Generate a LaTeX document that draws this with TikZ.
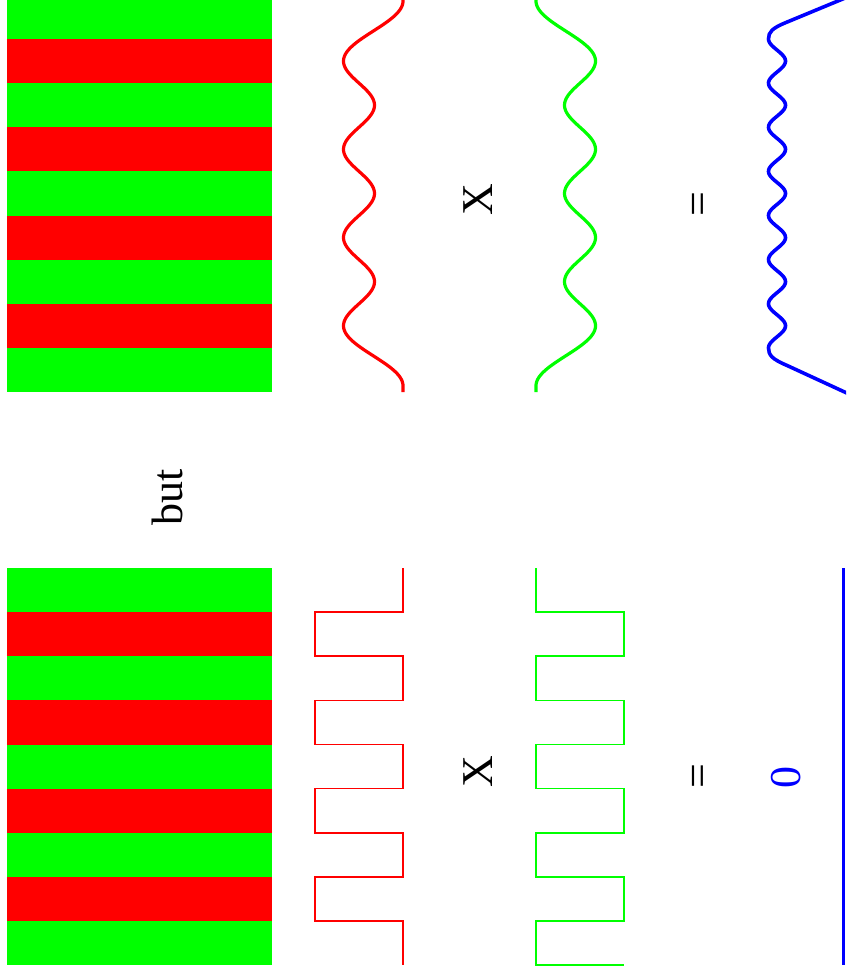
\documentclass[tikz,border=0pt]{standalone}
\usepackage{fontspec}
\setmainfont{Liberation Serif}
\begin{document}
\begin{tikzpicture}[x=1pt,y=-1pt,
  wave/.style={line width=3.2pt,line join=round},
  sq/.style={line width=1.7pt,line join=miter},
  lab/.style={rotate=90,anchor=base,inner sep=0pt,font=\fontsize{44}{50}\selectfont}]
\definecolor{red}{RGB}{255,0,0}
\definecolor{green}{RGB}{0,255,0}
\definecolor{blue}{RGB}{0,0,255}
\useasboundingbox (0,0) rectangle (846,974);
\clip (0,0) rectangle (846,974);
\fill[white] (0,0) rectangle (846,974);
% ---------- top panel: stripes ----------
\foreach \k in {0,...,8}{
  \pgfmathsetmacro{\ya}{-5.125+44.125*\k}
  \pgfmathsetmacro{\yb}{-5.125+44.125*(\k+1)}
  \pgfmathparse{int(mod(\k,2))}
  \ifnum\pgfmathresult=0 \fill[green] (7,\ya) rectangle (272,\yb); \else \fill[red] (7,\ya) rectangle (272,\yb); \fi
}
% ---------- bottom panel: stripes ----------
\foreach \k in {0,...,8}{
  \pgfmathsetmacro{\ya}{568+44.125*\k}
  \pgfmathsetmacro{\yb}{568+44.125*(\k+1)}
  \pgfmathparse{int(mod(\k,2))}
  \ifnum\pgfmathresult=0 \fill[green] (7,\ya) rectangle (272,\yb); \else \fill[red] (7,\ya) rectangle (272,\yb); \fi
}
% ---------- top panel: smooth waves ----------
\draw[red,wave] (403,-10) -- (403,1.06)
  -- plot[domain=1.06:61.06,samples=40] ({343.5+29.75*(1-cos(3*(61.06-\x)))},\x)
  -- plot[domain=61.06:325.81,samples=160] ({359-15.5*cos(4.0793*(\x-61.06))},\x)
  -- plot[domain=325.81:385.81,samples=40] ({343.5+29.75*(1-cos(3*(\x-325.81)))},\x)
  -- (403,392);
\draw[green,wave] (536,-10) -- (536,1.06)
  -- plot[domain=1.06:61.06,samples=40] ({595.5-29.75*(1-cos(3*(61.06-\x)))},\x)
  -- plot[domain=61.06:325.81,samples=160] ({580+15.5*cos(4.0793*(\x-61.06))},\x)
  -- plot[domain=325.81:385.81,samples=40] ({595.5-29.75*(1-cos(3*(\x-325.81)))},\x)
  -- (536,392);
\draw[blue,line width=3.6pt,line join=round] (856,-6.5) -- (786,22.5)
  .. controls (772,28.3) and (768.5,32) .. (768.5,39)
  -- plot[domain=39:347.875,samples=220] ({777+8.5*cos(8.1586*(\x-61.06))},\x)
  .. controls (768.5,355) and (772,359) .. (786,365) -- (850,394.5);
% ---------- bottom panel: square waves ----------
\draw[red,sq] (403,568) -- (403,612.1) -- (315,612.1) -- (315,656.3) -- (403,656.3)
  -- (403,700.4) -- (315,700.4) -- (315,744.5) -- (403,744.5) -- (403,788.6)
  -- (315,788.6) -- (315,832.8) -- (403,832.8) -- (403,876.9) -- (315,876.9)
  -- (315,921) -- (403,921) -- (403,965.1);
\draw[green,sq] (536,568) -- (536,612.1) -- (624,612.1) -- (624,656.3) -- (536,656.3)
  -- (536,700.4) -- (624,700.4) -- (624,744.5) -- (536,744.5) -- (536,788.6)
  -- (624,788.6) -- (624,832.8) -- (536,832.8) -- (536,876.9) -- (624,876.9)
  -- (624,921) -- (536,921) -- (536,965.1) -- (624,965.1);
\draw[blue,line width=3pt] (843.5,568) -- (843.5,965.1);
% ---------- labels ----------
\node[lab] (but) at (182,497) {but};
\node[lab] (xtop) at (492,200) {X};
\node[lab] (xbot) at (492,772) {X};
\node[lab] (eqtop) at (712,204) {=};
\node[lab] (eqbot) at (712,776) {=};
\node[lab,text=blue] (zero) at (800,777) {0};
\end{tikzpicture}
\end{document}
